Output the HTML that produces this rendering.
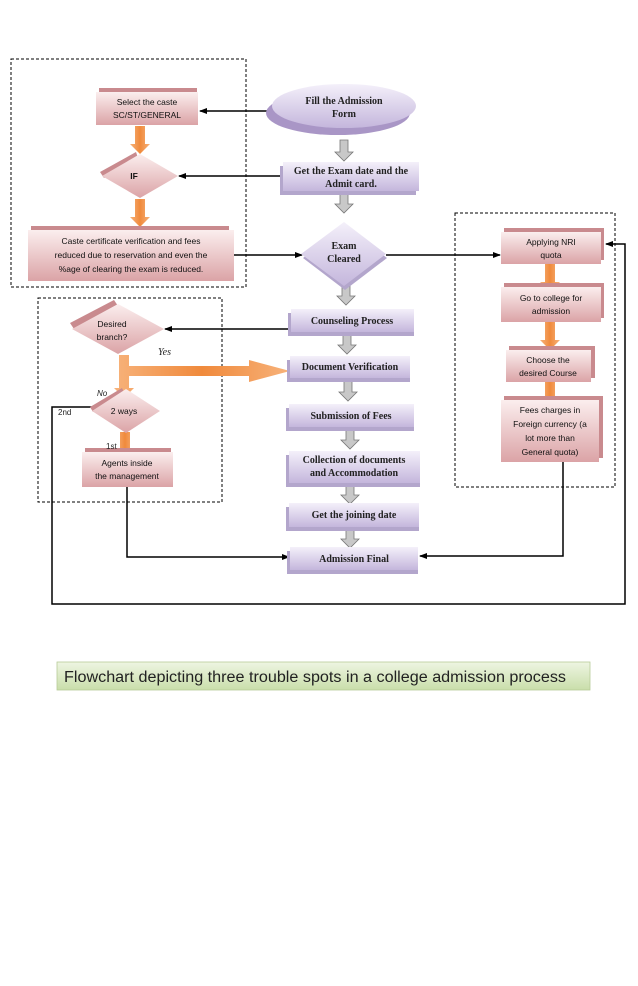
<!DOCTYPE html>
<html><head><meta charset="utf-8"><style>
html,body{margin:0;padding:0;background:#fff;}
svg{display:block}
.p{font-family:"Liberation Serif",serif;font-weight:bold;font-size:10px;fill:#222;text-anchor:middle}
.k{font-family:"Liberation Sans",sans-serif;font-size:8.5px;fill:#111;text-anchor:middle}
</style></head><body>
<svg width="638" height="986" viewBox="0 0 638 986" xmlns="http://www.w3.org/2000/svg">
<defs>
<linearGradient id="pg" x1="0" y1="0" x2="0" y2="1"><stop offset="0" stop-color="#f4f0fa"/><stop offset="1" stop-color="#c4b6dc"/></linearGradient>
<linearGradient id="kg" x1="0" y1="0" x2="0" y2="1"><stop offset="0" stop-color="#fbeeee"/><stop offset="1" stop-color="#dba3a6"/></linearGradient>
<linearGradient id="gg" x1="0" y1="0" x2="0" y2="1"><stop offset="0" stop-color="#eef5e2"/><stop offset="1" stop-color="#c9deaa"/></linearGradient>
<linearGradient id="og" x1="0" y1="0" x2="1" y2="0"><stop offset="0" stop-color="#f7b27a"/><stop offset="0.5" stop-color="#f08a3c"/><stop offset="1" stop-color="#f7b27a"/></linearGradient>
<marker id="a" markerWidth="8" markerHeight="8" refX="7" refY="4" orient="auto" markerUnits="userSpaceOnUse"><path d="M0,1 L8,4 L0,7 z" fill="#000"/></marker>
<g id="garrow"><path d="M-4,0 h8 v12 h5 l-9,9 l-9,-9 h5 z" fill="#c8c8c8" stroke="#777" stroke-width="0.8"/></g>
<g id="oarrow"><path d="M-5,0 h10 v18 h5 l-10,10 l-10,-10 h5 z" fill="url(#og)"/></g>
</defs>

<g fill="none" stroke="#000" stroke-width="1" stroke-dasharray="3,2">
<rect x="11" y="59" width="235" height="228"/>
<rect x="38" y="298" width="184" height="204"/>
<rect x="455" y="213" width="160" height="274"/>
</g>

<g stroke="#000" stroke-width="1.5" fill="none">
<line x1="272" y1="111" x2="200" y2="111" marker-end="url(#a)"/>
<line x1="283" y1="176" x2="179" y2="176" marker-end="url(#a)"/>
<line x1="234" y1="255" x2="302" y2="255" marker-end="url(#a)"/>
<line x1="386" y1="255" x2="500" y2="255" marker-end="url(#a)"/>
<line x1="291" y1="329" x2="165" y2="329" marker-end="url(#a)"/>
<polyline points="92,407 52,407 52,604 625,604 625,244 606,244" marker-end="url(#a)"/>
<polyline points="127,487 127,557 289,557" marker-end="url(#a)"/>
<polyline points="563,462 563,556 420,556" marker-end="url(#a)"/>
</g>

<use href="#garrow" x="344" y="140"/>
<use href="#garrow" x="344" y="192"/>
<use href="#garrow" x="346" y="284"/>
<use href="#garrow" x="347" y="333"/>
<use href="#garrow" x="348" y="380"/>
<use href="#garrow" x="350" y="428"/>
<use href="#garrow" x="350" y="483"/>
<use href="#garrow" x="350" y="527"/>

<use href="#oarrow" x="140" y="126"/>
<use href="#oarrow" x="140" y="199"/>
<use href="#oarrow" x="550" y="264"/>
<use href="#oarrow" x="550" y="322"/>
<use href="#oarrow" x="550" y="382"/>
<use href="#oarrow" x="125" y="432"/>
<path d="M119,355 h10 v11 h120 v-6 l41,11 l-41,11 v-6 h-120 v12 h5 l-10,10 l-10,-10 h5 z" fill="url(#og)"/>

<ellipse cx="338" cy="113" rx="72" ry="22" fill="#a996c6"/>
<ellipse cx="344" cy="106" rx="72" ry="22" fill="url(#pg)"/>
<text class="p" x="344" y="104">Fill the Admission</text><text class="p" x="344" y="117">Form</text>

<rect x="280" y="166" width="136" height="29" fill="#b3a6cc"/>
<rect x="283" y="162" width="136" height="29" fill="url(#pg)"/>
<text class="p" x="351" y="174">Get the Exam date and the</text><text class="p" x="351" y="187">Admit card.</text>

<path d="M303,258 L345,226 L387,258 L345,290 z" fill="#b3a6cc"/>
<path d="M301,254 L344,222 L386,254 L344,286 z" fill="url(#pg)"/>
<text class="p" x="344" y="249">Exam</text><text class="p" x="344" y="262">Cleared</text>

<rect x="288" y="313" width="126" height="23" fill="#b3a6cc"/>
<rect x="291" y="309" width="123" height="23" fill="url(#pg)"/>
<text class="p" x="352" y="324">Counseling Process</text>

<rect x="287" y="360" width="123" height="22" fill="#b3a6cc"/>
<rect x="290" y="356" width="120" height="22" fill="url(#pg)"/>
<text class="p" x="350" y="370">Document Verification</text>

<rect x="286" y="408" width="128" height="23" fill="#b3a6cc"/>
<rect x="289" y="404" width="125" height="23" fill="url(#pg)"/>
<text class="p" x="351" y="419">Submission of Fees</text>

<rect x="286" y="455" width="134" height="32" fill="#b3a6cc"/>
<rect x="289" y="451" width="131" height="32" fill="url(#pg)"/>
<text class="p" x="354" y="463">Collection of documents</text><text class="p" x="354" y="476">and Accommodation</text>

<rect x="286" y="507" width="133" height="24" fill="#b3a6cc"/>
<rect x="289" y="503" width="130" height="24" fill="url(#pg)"/>
<text class="p" x="354" y="518">Get the joining date</text>

<rect x="287" y="551" width="131" height="23" fill="#b3a6cc"/>
<rect x="290" y="547" width="128" height="23" fill="url(#pg)"/>
<text class="p" x="354" y="562">Admission Final</text>

<rect x="99" y="88" width="98" height="33" fill="#c98a8e"/>
<rect x="96" y="92" width="102" height="33" fill="url(#kg)"/>
<text class="k" x="147" y="105">Select the caste</text><text class="k" x="147" y="118">SC/ST/GENERAL</text>

<path d="M100,172 L136,152 L138,158 L104,178 z" fill="#c98a8e"/>
<path d="M102,176 L140,154 L178,176 L140,198 z" fill="url(#kg)"/>
<text class="k" x="134" y="179" font-weight="bold">IF</text>

<rect x="31" y="226" width="198" height="50" fill="#c98a8e"/>
<rect x="28" y="230" width="206" height="51" fill="url(#kg)"/>
<text class="k" x="131" y="244">Caste certificate verification and fees</text>
<text class="k" x="131" y="258">reduced due to reservation and even the</text>
<text class="k" x="131" y="272">%age of clearing the exam is reduced.</text>

<path d="M70,323 L114,300 L118,306 L74,329 z" fill="#c98a8e"/>
<path d="M72,329 L118,304 L164,329 L118,354 z" fill="url(#kg)"/>
<text class="k" x="112" y="327">Desired</text><text class="k" x="112" y="340">branch?</text>

<path d="M90,407 L122,388 L125,394 L93,412 z" fill="#c98a8e"/>
<path d="M92,411 L126,389 L160,411 L126,433 z" fill="url(#kg)"/>
<text class="k" x="124" y="414">2 ways</text>

<rect x="85" y="448" width="86" height="36" fill="#c98a8e"/>
<rect x="82" y="452" width="91" height="35" fill="url(#kg)"/>
<text class="k" x="127" y="466">Agents inside</text><text class="k" x="127" y="479">the management</text>

<rect x="504" y="228" width="100" height="32" fill="#c98a8e"/>
<rect x="501" y="232" width="100" height="32" fill="url(#kg)"/>
<text class="k" x="551" y="245">Applying NRI</text><text class="k" x="551" y="258">quota</text>

<rect x="504" y="283" width="100" height="35" fill="#c98a8e"/>
<rect x="501" y="287" width="100" height="35" fill="url(#kg)"/>
<text class="k" x="551" y="301">Go to college for</text><text class="k" x="551" y="314">admission</text>

<rect x="509" y="346" width="86" height="32" fill="#c98a8e"/>
<rect x="506" y="350" width="85" height="32" fill="url(#kg)"/>
<text class="k" x="548" y="363">Choose the</text><text class="k" x="548" y="376">desired Course</text>

<rect x="504" y="396" width="99" height="62" fill="#c98a8e"/>
<rect x="501" y="400" width="98" height="62" fill="url(#kg)"/>
<text class="k" x="550" y="413">Fees charges in</text>
<text class="k" x="550" y="427">Foreign currency (a</text>
<text class="k" x="550" y="441">lot more than</text>
<text class="k" x="550" y="455">General quota)</text>

<text x="158" y="355" font-family="Liberation Serif,serif" font-style="italic" font-size="10" fill="#222">Yes</text>
<text x="97" y="396" font-family="Liberation Sans,sans-serif" font-style="italic" font-size="8" fill="#222">No</text>
<text x="58" y="415" font-family="Liberation Sans,sans-serif" font-size="8" fill="#222">2nd</text>
<text x="106" y="449" font-family="Liberation Sans,sans-serif" font-size="8" fill="#222">1st</text>

<rect x="57" y="662" width="533" height="28" fill="url(#gg)" stroke="#b8cc98" stroke-width="0.8"/>
<text x="64" y="682" font-family="Liberation Sans,sans-serif" font-size="15.5" fill="#222" textLength="502" lengthAdjust="spacingAndGlyphs">Flowchart depicting three trouble spots in a college admission process</text>
</svg>
</body></html>
